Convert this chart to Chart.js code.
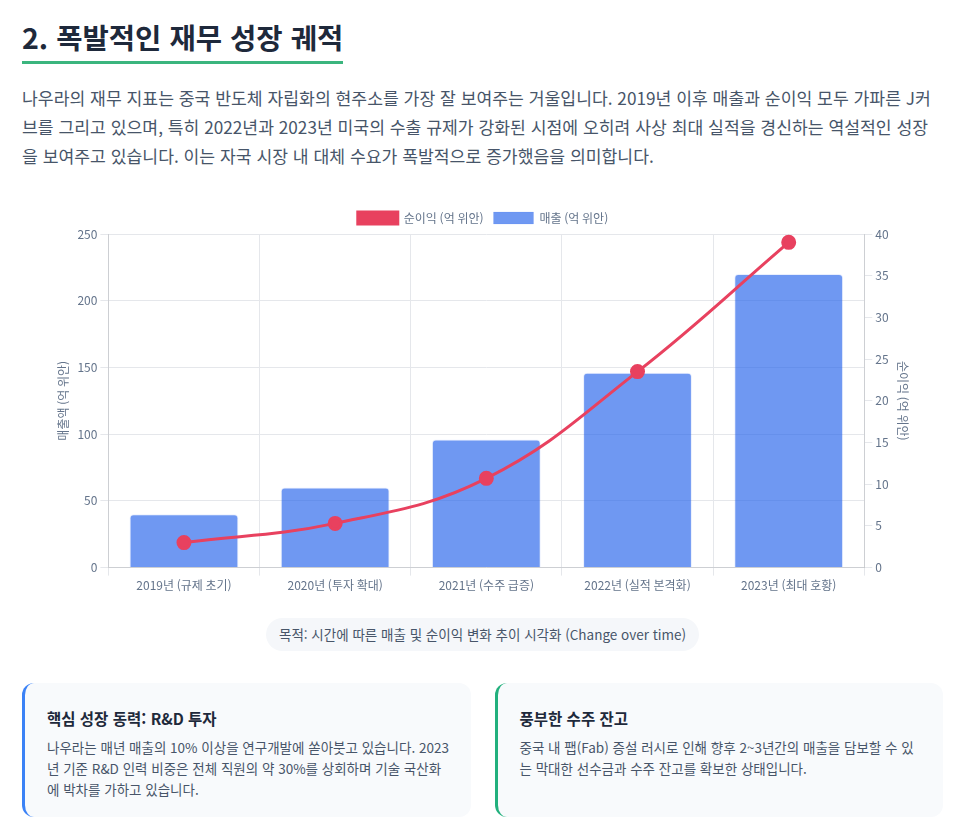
<!DOCTYPE html>
<html lang="ko">
<head>
<meta charset="utf-8">
<title>폭발적인 재무 성장 궤적</title>
<script src="https://cdn.jsdelivr.net/npm/chart.js@4.4.1/dist/chart.umd.min.js"></script>
<style>
  body {
    margin: 0;
    background: #ffffff;
    font-family: "Noto Sans CJK KR", "Noto Sans", sans-serif;
    color: #334155;
  }
  .wrap {
    width: 921px;
    margin-left: 22px;
    padding-top: 18px;
  }
  h2 {
    display: inline-block;
    margin: 0;
    font-size: 28.6px;
    font-weight: 700;
    color: #1e293b;
    padding-bottom: 6px;
    border-bottom: 3px solid #3bb57e;
    line-height: 1.3;
  }
  .desc {
    width: 912px;
    margin: 19px 0 0;
    font-size: 17.2px;
    line-height: 29px;
    color: #475569;
  }
  .chartBox {
    position: relative;
    width: 862px;
    height: 394px;
    margin: 32px 0 0 30px;
  }
  .purpose {
    text-align: center;
    margin-top: 22px;
  }
  .purpose span {
    display: inline-block;
    background: #f5f7fa;
    color: #475569;
    font-size: 13.5px;
    line-height: 19px;
    padding: 7px 13px;
    border-radius: 999px;
  }
  .cards {
    display: grid;
    grid-template-columns: 1fr 1fr;
    gap: 24px;
    margin-top: 32px;
  }
  .card {
    background: #f8fafc;
    border-radius: 12px;
    padding: 24px 20px 20px 22px;
    height: 134px;
    box-sizing: border-box;
  }
  .card.blue { border-left: 3px solid #3b82f6; }
  .card.green { border-left: 3px solid #22b07d; }
  .card h3 {
    margin: 0 0 8px;
    font-size: 15.5px;
    font-weight: 700;
    color: #1e293b;
  }
  .card p {
    margin: 0;
    font-size: 13.5px;
    line-height: 21px;
    color: #475569;
  }
</style>
</head>
<body>
<div class="wrap">
  <h2>2. 폭발적인 재무 성장 궤적</h2>
  <p class="desc">나우라의 재무 지표는 중국 반도체 자립화의 현주소를 가장 잘 보여주는 거울입니다. 2019년 이후 매출과 순이익 모두 가파른 J커브를 그리고 있으며, 특히 2022년과 2023년 미국의 수출 규제가 강화된 시점에 오히려 사상 최대 실적을 경신하는 역설적인 성장을 보여주고 있습니다. 이는 자국 시장 내 대체 수요가 폭발적으로 증가했음을 의미합니다.</p>
  <div class="chartBox"><canvas id="growthChart"></canvas></div>
  <div class="purpose"><span>목적: 시간에 따른 매출 및 순이익 변화 추이 시각화 (Change over time)</span></div>
  <div class="cards">
    <div class="card blue">
      <h3>핵심 성장 동력: R&amp;D 투자</h3>
      <p>나우라는 매년 매출의 10% 이상을 연구개발에 쏟아붓고 있습니다. 2023년 기준 R&amp;D 인력 비중은 전체 직원의 약 30%를 상회하며 기술 국산화에 박차를 가하고 있습니다.</p>
    </div>
    <div class="card green">
      <h3>풍부한 수주 잔고</h3>
      <p>중국 내 팹(Fab) 증설 러시로 인해 향후 2~3년간의 매출을 담보할 수 있는 막대한 선수금과 수주 잔고를 확보한 상태입니다.</p>
    </div>
  </div>
</div>

<script>
// 데이터
const years = ["2019년 (규제 초기)", "2020년 (투자 확대)", "2021년 (수주 급증)", "2022년 (실적 본격화)", "2023년 (최대 호황)"];
const revenue = [40, 60, 96, 146, 220];
const netProfit = [3.0, 5.3, 10.7, 23.5, 39.0];

const tickColor = "#64748b";
const gridColor = "#e5e7eb";

function main() {
  Chart.defaults.font.family = '"Noto Sans CJK KR", "Noto Sans", sans-serif';
  Chart.defaults.font.size = 12;
  Chart.defaults.color = tickColor;

  const ctx = document.getElementById("growthChart").getContext("2d");
  new Chart(ctx, {
    type: "bar",
    data: {
      labels: years,
      datasets: [
        {
          type: "line",
          label: "순이익 (억 위안)",
          data: netProfit,
          yAxisID: "y1",
          borderColor: "rgb(232, 65, 95)",
          backgroundColor: "rgb(232, 65, 95)",
          borderWidth: 3,
          tension: 0.4,
          pointRadius: 6,
          pointHoverRadius: 7,
          fill: false,
        },
        {
          type: "bar",
          label: "매출 (억 위안)",
          data: revenue,
          yAxisID: "y",
          backgroundColor: "rgba(37, 99, 235, 0.66)",
          borderColor: "rgba(37, 99, 235, 0.1)",
          borderWidth: 1,
          borderRadius: 4,
        },
      ],
    },
    options: {
      responsive: true,
      maintainAspectRatio: false,
      animation: false,
      plugins: {
        legend: {
          position: "top",
          labels: { color: tickColor },
        },
        tooltip: { enabled: true },
      },
      scales: {
        x: {
          grid: { color: gridColor },
          ticks: { color: tickColor },
        },
        y: {
          type: "linear",
          position: "left",
          min: 0,
          max: 250,
          ticks: { stepSize: 50, color: tickColor },
          grid: { color: gridColor },
          title: { display: true, text: "매출액 (억 위안)", color: tickColor },
        },
        y1: {
          type: "linear",
          position: "right",
          min: 0,
          max: 40,
          ticks: { stepSize: 5, color: tickColor },
          grid: { drawOnChartArea: false, color: gridColor },
          title: { display: true, text: "순이익 (억 위안)", color: tickColor },
        },
      },
    },
  });
}

document.addEventListener("DOMContentLoaded", main);
</script>
</body>
</html>
